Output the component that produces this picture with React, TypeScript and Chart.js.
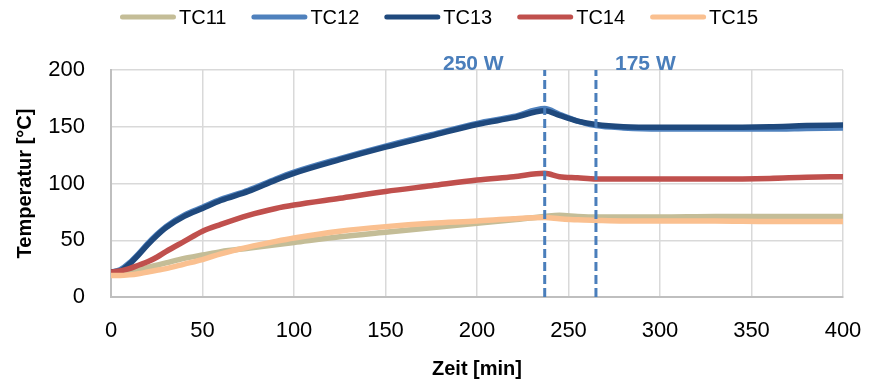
import React, { useEffect, useRef } from 'react';
import { Chart, registerables } from 'chart.js';

Chart.register(...registerables);

// ---- data ----
const timeMin = [0, 5, 10, 15, 20, 25, 30, 40, 50, 60, 75, 90, 100, 125, 150, 175, 200, 220, 237, 245, 255, 265, 280, 300, 330, 360, 380, 400];
const tc11 = [20, 21, 22, 24, 26, 28, 30, 34, 37, 40, 43, 46, 48, 53, 57, 61, 65, 68, 71, 72, 71, 70.5, 70.5, 70.5, 71, 71, 71, 71];
const tc12 = [22, 24, 30, 38, 47, 55, 62, 72, 79, 86, 94, 104, 110, 122, 133, 143, 153, 159, 166, 161, 155, 151, 149, 148, 148, 148, 148.5, 149];
const tc13 = [22, 23, 29, 37, 46, 54, 61, 71, 78, 85, 93, 103, 109, 121, 132, 142, 152, 158, 164, 160, 155, 152, 150, 149.5, 149.5, 150, 151, 151.5];
const tc14 = [22, 23, 25, 28, 31, 35, 40, 49, 58, 64, 72, 78, 81, 87, 93, 98, 103, 106, 109, 106, 105, 104, 104, 104, 104, 104.5, 105.5, 106];
const tc15 = [19, 19, 19.5, 20.5, 22, 23.5, 25, 29, 33, 38, 44, 49, 52, 58, 62, 65, 67, 69, 70, 69, 68, 67.5, 67, 67, 67, 66.5, 66.5, 66.5];

const seriesNames = ['TC11', 'TC12', 'TC13', 'TC14', 'TC15'];
const seriesValues = [tc11, tc12, tc13, tc14, tc15];

const switchTimes = [237, 265];
const powerLabels = ['250 W', '175 W'];
const powerLabelTimes = [198, 292];
const powerLabelTemp = 205;

const xTicks = [0, 50, 100, 150, 200, 250, 300, 350, 400];
const yTicks = [0, 50, 100, 150, 200];

// ---- styles ----
const seriesColors = ['#C4BD97', '#4F81BD', '#1F497D', '#C0504D', '#FAC090'];
const FONT = "'Liberation Sans', Arial, sans-serif";
const markerColor = '#4A7EBB';

const legendPlugin = {
  id: 'lineLegend',
  afterDraw(chart: any) {
    const ctx = chart.ctx;
    ctx.save();
    ctx.font = `20px ${FONT}`;
    const sample = 56, gapText = 3, gapItem = 25;
    const widths = seriesNames.map((n) => sample + gapText + ctx.measureText(n).width);
    const total = widths.reduce((a, b) => a + b, 0) + gapItem * (widths.length - 1);
    let x = 439 - total / 2;
    const y = 17;
    seriesNames.forEach((n, i) => {
      ctx.strokeStyle = seriesColors[i];
      ctx.lineWidth = 5;
      ctx.lineCap = 'round';
      ctx.beginPath();
      ctx.moveTo(x + 2.5, y);
      ctx.lineTo(x + sample - 2.5, y);
      ctx.stroke();
      ctx.fillStyle = '#000';
      ctx.textBaseline = 'middle';
      ctx.textAlign = 'left';
      ctx.fillText(n, x + sample + gapText, y + 1);
      x += widths[i] + gapItem;
    });
    ctx.restore();
  },
};

const powerLabelPlugin = {
  id: 'powerLabels',
  afterDatasetsDraw(chart: any) {
    const { ctx, scales } = chart;
    ctx.save();
    ctx.font = `bold 21px ${FONT}`;
    ctx.fillStyle = markerColor;
    ctx.textAlign = 'center';
    ctx.textBaseline = 'middle';
    powerLabels.forEach((t, i) => {
      ctx.fillText(t, scales.x.getPixelForValue(powerLabelTimes[i]), scales.y.getPixelForValue(powerLabelTemp));
    });
    ctx.restore();
  },
};

export default function App() {
  const ref = useRef<HTMLCanvasElement | null>(null);

  useEffect(() => {
    if (!ref.current) return;
    const seriesSets = seriesNames.map((name, i) => ({
      label: name,
      data: timeMin.map((t, k) => ({ x: t, y: seriesValues[i][k] })),
      borderColor: seriesColors[i],
      backgroundColor: seriesColors[i],
      borderWidth: 5.5,
      pointRadius: 0,
      cubicInterpolationMode: 'monotone' as const,
      order: seriesNames.length - i,
      borderCapStyle: 'round' as const,
      borderJoinStyle: 'round' as const,
    }));
    const markerSets = switchTimes.map((t, i) => ({
      label: `switch${i}`,
      data: [{ x: t, y: yTicks[0] }, { x: t, y: yTicks[yTicks.length - 1] }],
      borderColor: markerColor,
      backgroundColor: markerColor,
      borderWidth: 3,
      borderDash: [9, 4],
      pointRadius: 0,
      order: 0,
    }));

    const chart = new Chart(ref.current, {
      type: 'line',
      data: { datasets: [...seriesSets, ...markerSets] as any },
      options: {
        responsive: true,
        maintainAspectRatio: false,
        animation: false,
        layout: { padding: { top: 70, right: 28, bottom: 0, left: 0 } },
        plugins: { legend: { display: false }, tooltip: { enabled: false } },
        scales: {
          x: {
            type: 'linear',
            min: 0,
            max: 400,
            afterBuildTicks: (s: any) => { s.ticks = xTicks.map((v) => ({ value: v })); },
            afterFit: (s: any) => { s.height = 86; s.paddingLeft = 0; s.paddingRight = 0; },
            grid: { color: '#d9d9d9', lineWidth: 1.5, drawTicks: false },
            border: { color: '#bfbfbf', width: 2 },
            ticks: { font: { family: FONT, size: 22 }, color: '#000', padding: 21, maxRotation: 0 },
            title: { display: true, text: 'Zeit [min]', font: { family: FONT, size: 20, weight: 'bold' }, color: '#000', padding: { top: 0, bottom: 2 } },
          },
          y: {
            min: 0,
            max: 200,
            afterBuildTicks: (s: any) => { s.ticks = yTicks.map((v) => ({ value: v })); },
            afterFit: (s: any) => { s.width = 111; s.paddingTop = 0; s.paddingBottom = 0; },
            grid: { color: '#d9d9d9', lineWidth: 1.5, drawTicks: false },
            border: { color: '#bfbfbf', width: 2 },
            ticks: { font: { family: FONT, size: 22 }, color: '#000', padding: 26 },
            title: { display: true, text: 'Temperatur [°C]', font: { family: FONT, size: 20, weight: 'bold' }, color: '#000', padding: { top: 13, bottom: 0 } },
          },
        },
      } as any,
      plugins: [legendPlugin, powerLabelPlugin],
    });
    return () => chart.destroy();
  }, []);

  return (
    <div style={{ position: 'fixed', left: 0, top: 0, width: 871, height: 383 }}>
      <canvas ref={ref} />
    </div>
  );
}
